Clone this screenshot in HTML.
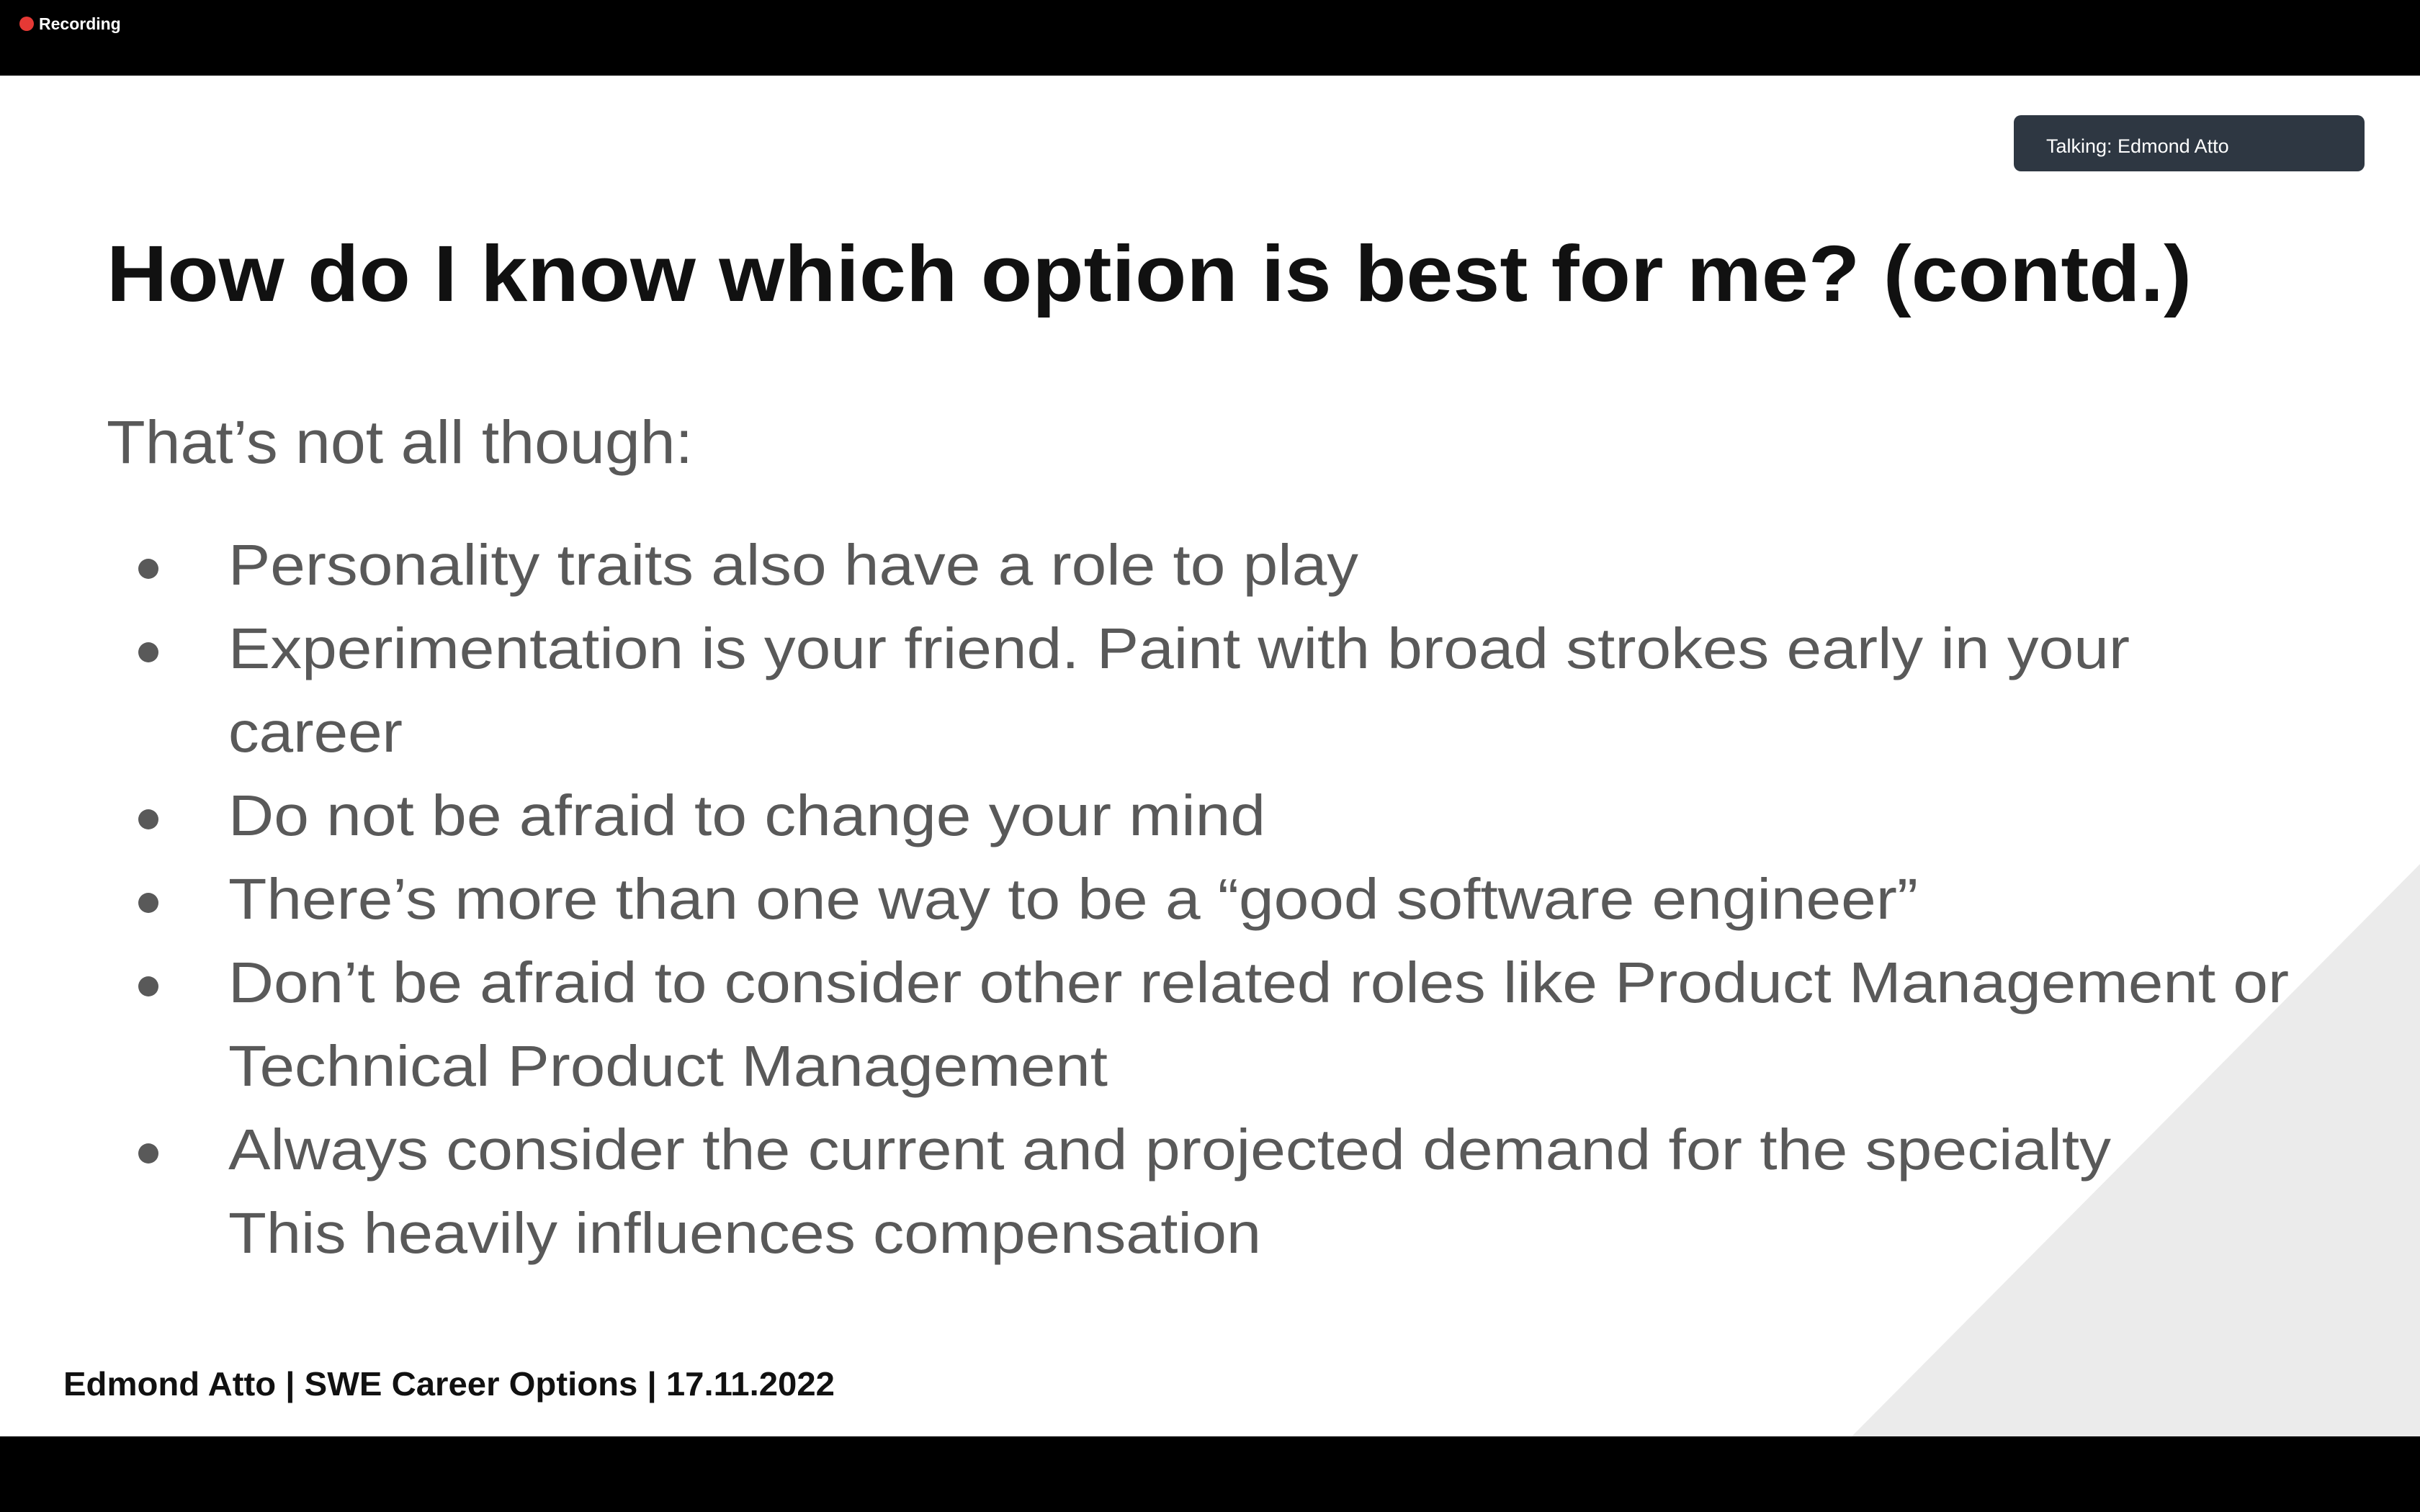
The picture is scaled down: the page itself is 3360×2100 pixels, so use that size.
<!DOCTYPE html>
<html><head><meta charset="utf-8"><style>
html,body{margin:0;padding:0;width:3360px;height:2100px;overflow:hidden;background:#fff}
svg{display:block}
</style></head><body>
<svg width="3360" height="2100" viewBox="0 0 3360 2100" xmlns="http://www.w3.org/2000/svg" font-family="Liberation Sans, sans-serif">
<rect x="0" y="0" width="3360" height="105" fill="#000"/>
<circle cx="37" cy="33" r="10" fill="#e53935"/>
<text x="54" y="41" font-size="23" font-weight="bold" fill="#fff">Recording</text>
<rect x="0" y="105" width="3360" height="1890" fill="#fff"/>
<polygon points="3360,1200 3360,1995 2571,1995" fill="#ebebeb"/>
<rect x="2796" y="160" width="487" height="78" rx="10" fill="#2e3742"/>
<text x="2841" y="212" font-size="27" fill="#fff">Talking: Edmond Atto</text>
<text x="148" y="418" font-size="110" font-weight="bold" fill="#111" textLength="2895" lengthAdjust="spacingAndGlyphs">How do I know which option is best for me? (contd.)</text>
<text x="148" y="643" font-size="84" fill="#595959" textLength="814" lengthAdjust="spacingAndGlyphs">That’s not all though:</text>
<g fill="#595959" font-size="80">
<circle cx="206" cy="790" r="14"/><text x="317" y="812" textLength="1569" lengthAdjust="spacingAndGlyphs">Personality traits also have a role to play</text>
<circle cx="206" cy="906" r="14"/><text x="317" y="928" textLength="2640" lengthAdjust="spacingAndGlyphs">Experimentation is your friend. Paint with broad strokes early in your</text>
<text x="317" y="1044" textLength="242" lengthAdjust="spacingAndGlyphs">career</text>
<circle cx="206" cy="1138" r="14"/><text x="317" y="1160" textLength="1440" lengthAdjust="spacingAndGlyphs">Do not be afraid to change your mind</text>
<circle cx="206" cy="1254" r="14"/><text x="317" y="1276" textLength="2346" lengthAdjust="spacingAndGlyphs">There’s more than one way to be a “good software engineer”</text>
<circle cx="206" cy="1370" r="14"/><text x="317" y="1392" textLength="2861" lengthAdjust="spacingAndGlyphs">Don’t be afraid to consider other related roles like Product Management or</text>
<text x="317" y="1508" textLength="1221" lengthAdjust="spacingAndGlyphs">Technical Product Management</text>
<circle cx="206" cy="1602" r="14"/><text x="317" y="1624" textLength="2614" lengthAdjust="spacingAndGlyphs">Always consider the current and projected demand for the specialty</text>
<text x="317" y="1740" textLength="1434" lengthAdjust="spacingAndGlyphs">This heavily influences compensation</text>
</g>
<text x="88" y="1938" font-size="46" font-weight="bold" fill="#111" textLength="1071" lengthAdjust="spacingAndGlyphs">Edmond Atto | SWE Career Options | 17.11.2022</text>
<rect x="0" y="1995" width="3360" height="105" fill="#000"/>
</svg>
</body></html>
